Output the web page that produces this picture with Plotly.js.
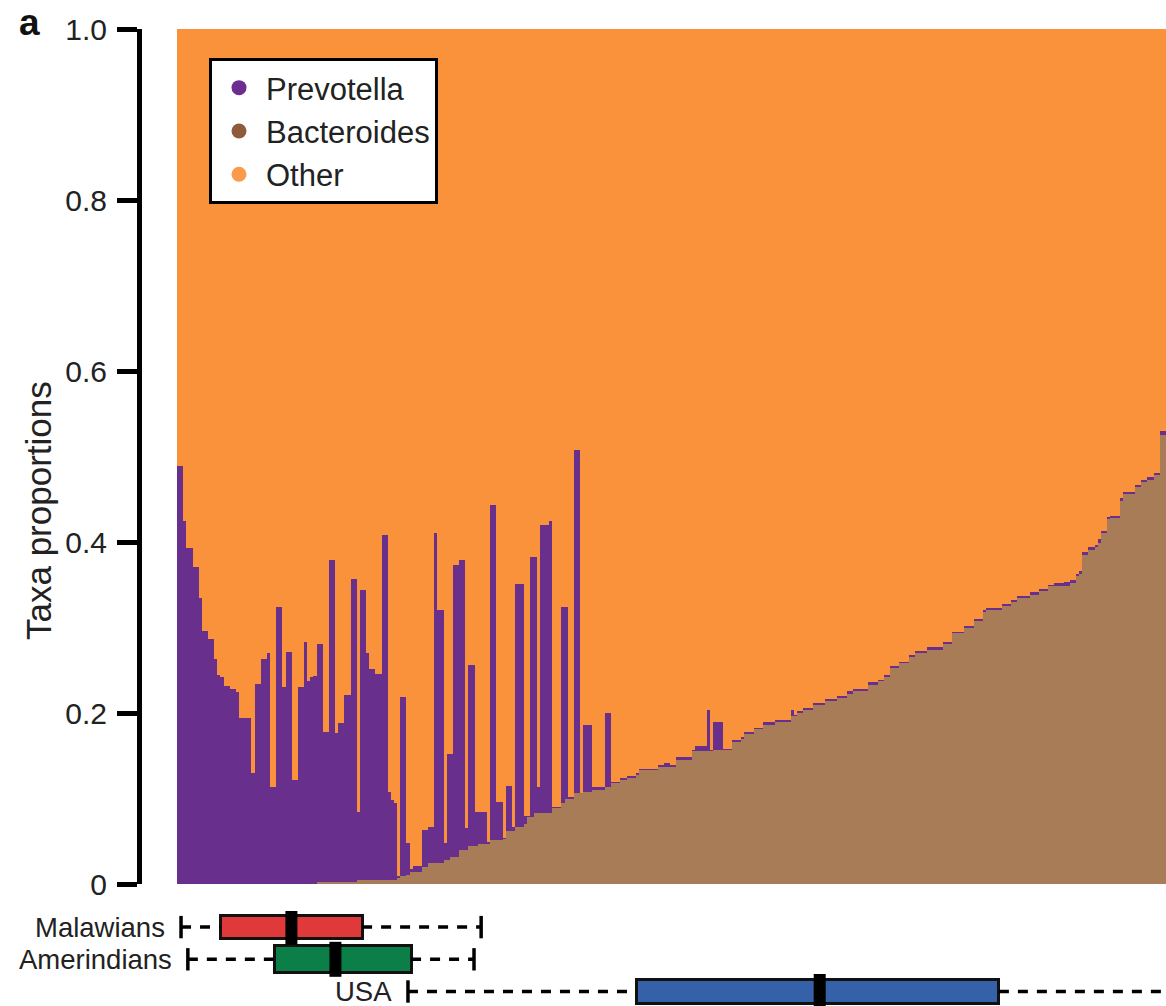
<!DOCTYPE html>
<html>
<head>
<meta charset="utf-8">
<script src="https://cdn.plot.ly/plotly-3.0.1.min.js"></script>
<style>
  html, body { margin: 0; padding: 0; background: #fff; overflow: hidden; }
  #chart { width: 1166px; height: 1006px; }
</style>
</head>
<body>
<div id="chart"></div>
<script>
// Samples ordered along the x axis (rank), values are taxa proportions
const bacteroides = [
  0,0,0,0,0,0,0,0,0,0,
  0,0,0,0,0,0,0,0,0,0,
  0,0,0,0,0,0,0,0,0,0,
  0,0,0,0,0,0,0,0,0,0,
  0,0,0,0,0,0.002,0.002,0.002,0.002,0.002,
  0.002,0.002,0.002,0.002,0.002,0.002,0.002,0.002,0.005,0.005,
  0.005,0.005,0.005,0.005,0.005,0.005,0.005,0.005,0.005,0.005,
  0.005,0.007,0.009,0.009,0.010,0.014,0.014,0.014,0.014,0.020,
  0.020,0.024,0.024,0.024,0.024,0.024,0.028,0.028,0.032,0.032,
  0.032,0.040,0.040,0.040,0.044,0.044,0.044,0.047,0.047,0.047,
  0.047,0.051,0.051,0.051,0.051,0.053,0.062,0.062,0.062,0.067,
  0.067,0.067,0.070,0.078,0.078,0.083,0.083,0.083,0.083,0.083,
  0.083,0.089,0.089,0.089,0.095,0.100,0.100,0.100,0.106,0.106,
  0.106,0.108,0.108,0.108,0.110,0.110,0.110,0.110,0.114,0.114,
  0.118,0.118,0.118,0.122,0.122,0.124,0.124,0.124,0.127,0.133,
  0.133,0.133,0.133,0.133,0.133,0.137,0.137,0.137,0.137,0.137,
  0.137,0.145,0.145,0.145,0.145,0.145,0.155,0.155,0.155,0.155,
  0.155,0.155,0.155,0.157,0.157,0.157,0.157,0.157,0.157,0.166,
  0.166,0.166,0.170,0.175,0.175,0.175,0.181,0.181,0.181,0.186,
  0.186,0.186,0.186,0.190,0.190,0.190,0.190,0.190,0.196,0.196,
  0.200,0.200,0.204,0.204,0.204,0.209,0.209,0.209,0.209,0.214,
  0.214,0.214,0.214,0.218,0.218,0.218,0.222,0.222,0.226,0.226,
  0.226,0.226,0.226,0.233,0.233,0.233,0.237,0.237,0.242,0.242,
  0.253,0.253,0.253,0.258,0.258,0.258,0.266,0.266,0.270,0.270,
  0.270,0.270,0.274,0.274,0.274,0.274,0.274,0.281,0.281,0.281,
  0.293,0.293,0.293,0.293,0.300,0.300,0.300,0.308,0.308,0.308,
  0.318,0.321,0.321,0.321,0.321,0.321,0.325,0.325,0.325,0.330,
  0.330,0.335,0.335,0.335,0.335,0.338,0.338,0.338,0.343,0.343,
  0.343,0.348,0.348,0.348,0.348,0.348,0.349,0.349,0.352,0.352,
  0.360,0.363,0.385,0.385,0.391,0.391,0.394,0.399,0.410,0.410,
  0.427,0.428,0.428,0.428,0.448,0.456,0.456,0.456,0.456,0.464,
  0.464,0.470,0.470,0.473,0.473,0.478,0.478,0.525,0.525
];

const prevotella = [
  0.489,0.489,0.424,0.393,0.393,0.371,0.371,0.334,0.296,0.296,
  0.287,0.287,0.263,0.245,0.242,0.232,0.232,0.228,0.228,0.225,
  0.194,0.194,0.194,0.194,0.130,0.234,0.234,0.263,0.263,0.270,
  0.114,0.114,0.324,0.324,0.230,0.271,0.271,0.122,0.122,0.231,
  0.231,0.283,0.238,0.242,0.243,0.279,0.279,0.176,0.176,0.377,
  0.377,0.175,0.186,0.186,0.219,0.219,0.355,0.355,0.079,0.339,
  0.339,0.265,0.246,0.246,0.241,0.241,0.403,0.403,0.103,0.093,
  0.090,0.002,0.210,0.210,0.038,0.004,0.007,0.007,0.007,0.043,
  0.043,0.043,0.043,0.386,0.296,0.296,0.020,0.124,0.120,0.341,
  0.341,0.339,0.339,0.025,0.212,0.212,0.040,0.037,0.037,0.037,
  0.002,0.392,0.392,0.045,0.045,0.001,0.053,0.053,0.005,0.284,
  0.284,0.284,0.010,0.001,0.305,0.300,0.031,0.337,0.337,0.337,
  0.341,0.001,0.001,0.001,0.229,0.224,0.002,0.002,0.402,0.402,
  0.001,0.078,0.078,0.078,0.004,0.004,0.004,0.004,0.086,0.086,
  0.001,0.001,0.001,0.002,0.002,0.002,0.002,0.002,0.003,0.002,
  0.002,0.002,0.002,0.002,0.002,0.002,0.002,0.004,0.004,0.002,
  0.002,0.003,0.003,0.003,0.003,0.003,0.002,0.006,0.006,0.006,
  0.006,0.049,0.002,0.033,0.033,0.033,0.001,0.001,0.001,0.002,
  0.002,0.002,0.002,0.003,0.003,0.003,0.002,0.002,0.002,0.003,
  0.003,0.003,0.003,0.002,0.002,0.002,0.002,0.002,0.008,0.002,
  0.002,0.002,0.002,0.002,0.002,0.003,0.003,0.003,0.003,0.002,
  0.002,0.002,0.002,0.002,0.002,0.002,0.004,0.004,0.002,0.002,
  0.002,0.002,0.002,0.003,0.003,0.003,0.002,0.002,0.002,0.002,
  0.002,0.002,0.002,0.002,0.002,0.002,0.002,0.002,0.002,0.002,
  0.002,0.002,0.003,0.003,0.003,0.003,0.003,0.002,0.002,0.002,
  0.002,0.002,0.002,0.002,0.002,0.002,0.002,0.002,0.002,0.002,
  0.002,0.002,0.002,0.002,0.002,0.002,0.002,0.002,0.002,0.002,
  0.002,0.002,0.002,0.002,0.002,0.003,0.003,0.003,0.002,0.002,
  0.002,0.002,0.002,0.004,0.004,0.004,0.004,0.004,0.003,0.003,
  0.003,0.003,0.003,0.003,0.003,0.003,0.003,0.004,0.003,0.003,
  0.002,0.003,0.003,0.003,0.004,0.003,0.003,0.003,0.003,0.003,
  0.003,0.002,0.002,0.003,0.003,0.003,0.003,0.005,0.005
];

// Position (sample rank) distribution of each population along the same x axis
const groups      = ['Malawians', 'Amerindians', 'USA'];
const lowerFence  = [0.8, 3.0, 74.0];
const q1          = [13.4, 31.1, 147.6];
const median      = [36.4, 50.6, 206.8];
const q3          = [59.2, 75.0, 264.6];
const upperFence  = [97.6, 95.3, 340.0];

const yTickVals = [0, 0.2, 0.4, 0.6, 0.8, 1.0];
const yTickText = ['0', '0.2', '0.4', '0.6', '0.8', '1.0'];

const taxaNames  = ['Prevotella', 'Bacteroides', 'Other'];
const barColors  = {Prevotella: '#68308c', Bacteroides: '#a97c58', Other: '#fa923b'};
const dotColors  = {Prevotella: '#6c2d91', Bacteroides: '#8e5b3d', Other: '#fb9a4a'};
const boxColors  = ['#e0393a', '#0b7f47', '#3461a8'];

const rank  = prevotella.map((_, i) => i);
const other = prevotella.map((p, i) => 1 - p - bacteroides[i]);

const FONT = 'Liberation Sans, Arial, Helvetica, sans-serif';

const traces = [];
// stacked bars
traces.push({type: 'bar', x: rank, y: bacteroides, name: 'Bacteroides', showlegend: false,
  marker: {color: barColors.Bacteroides, line: {width: 0}}, hoverinfo: 'skip'});
traces.push({type: 'bar', x: rank, y: prevotella, name: 'Prevotella', showlegend: false,
  marker: {color: barColors.Prevotella, line: {width: 0}}, hoverinfo: 'skip'});
traces.push({type: 'bar', x: rank, y: other, name: 'Other', showlegend: false,
  marker: {color: barColors.Other, line: {width: 0}}, hoverinfo: 'skip'});

// legend entries (round dots)
taxaNames.forEach(n => {
  traces.push({type: 'scatter', mode: 'markers', x: [null], y: [null], name: n,
    marker: {color: dotColors[n], size: 15, symbol: 'circle'}, showlegend: true});
});

// whiskers (dashed)
const wx = [], wy = [];
groups.forEach((g, i) => {
  wx.push(lowerFence[i], q1[i], null, q3[i], upperFence[i], null);
  wy.push(g, g, null, g, g, null);
});
traces.push({type: 'scatter', mode: 'lines', x: wx, y: wy, xaxis: 'x2', yaxis: 'y2',
  line: {color: '#000', width: 3.5, dash: '10px,9px'}, showlegend: false, hoverinfo: 'skip'});
// whisker caps
const cx = [], cy = [];
groups.forEach((g, i) => { cx.push(lowerFence[i], upperFence[i]); cy.push(g, g); });
traces.push({type: 'scatter', mode: 'markers', x: cx, y: cy, xaxis: 'x2', yaxis: 'y2',
  marker: {symbol: 'line-ns', size: 16, color: '#000', line: {color: '#000', width: 3.5}},
  showlegend: false, hoverinfo: 'skip'});
// boxes
traces.push({type: 'bar', orientation: 'h', y: groups, x: q3.map((v, i) => v - q1[i]), base: q1,
  xaxis: 'x2', yaxis: 'y2', width: [0.72, 0.85, 0.72],
  marker: {color: boxColors, line: {color: '#111', width: 3}}, showlegend: false, hoverinfo: 'skip'});
// medians
traces.push({type: 'scatter', mode: 'markers', x: median, y: groups, xaxis: 'x2', yaxis: 'y2',
  marker: {symbol: 'line-ns', size: 25, color: '#000', opacity: 1, line: {color: '#000', width: 12}},
  showlegend: false, hoverinfo: 'skip'});

const W = 1166, H = 1006;
const xDom = [177 / W, 1];
const xRange = [-0.5, rank.length - 0.5];

const annotations = [
  {xref: 'paper', yref: 'paper', x: 17 / W, y: 1, xanchor: 'left', yanchor: 'top',
   text: '<b>a</b>', showarrow: false, font: {family: FONT, size: 37, color: '#111'}},
  {xref: 'paper', yref: 'paper', x: 38 / W, y: 1 - 511 / H, xanchor: 'center', yanchor: 'middle',
   text: 'Taxa proportions', textangle: -90, showarrow: false, font: {family: FONT, size: 35, color: '#222'}}
];
groups.forEach((g, i) => {
  annotations.push({xref: 'x2', yref: 'y2', x: lowerFence[i], y: g, xanchor: 'right', yanchor: 'middle',
    xshift: -14, text: g, showarrow: false, font: {family: FONT, size: 27.5, color: '#222'}});
});

const layout = {
  width: W, height: H,
  margin: {l: 0, r: 0, t: 0, b: 0, pad: 0},
  paper_bgcolor: '#fff', plot_bgcolor: 'rgba(0,0,0,0)',
  barmode: 'stack', bargap: 0,
  font: {family: FONT, color: '#222'},
  showlegend: true,
  legend: {x: 209 / W, y: 1 - 58 / H, xanchor: 'left', yanchor: 'top', traceorder: 'normal',
    bgcolor: '#fff', bordercolor: '#000', borderwidth: 3,
    font: {family: FONT, size: 31, color: '#222'}, itemwidth: 44, tracegroupgap: 0,
    entrywidth: 190, entrywidthmode: 'pixels'},
  xaxis: {domain: xDom, range: xRange, visible: false, fixedrange: true},
  yaxis: {domain: [1 - 884 / H, 1 - 29 / H], range: [0, 1], anchor: 'free', position: 139 / W,
    showline: true, linewidth: 5, linecolor: '#000', ticks: 'outside', ticklen: 20, tickwidth: 5,
    tickcolor: '#000', tickvals: yTickVals, ticktext: yTickText, showgrid: false, zeroline: false,
    tickfont: {family: FONT, size: 30, color: '#222'}, ticklabelstandoff: 4, automargin: false},
  xaxis2: {domain: xDom, range: xRange, anchor: 'y2', visible: false},
  yaxis2: {domain: [0, 1 - 911 / H], type: 'category', categoryarray: groups, range: [2.45, -0.5],
    anchor: 'x2', visible: false},
  annotations: annotations
};

Plotly.newPlot('chart', traces, layout, {staticPlot: true, displayModeBar: false});
</script>
</body>
</html>
